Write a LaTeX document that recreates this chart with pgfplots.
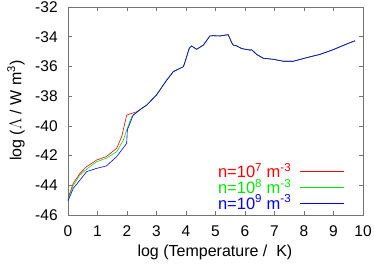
\documentclass[border=0pt]{standalone}
\usepackage{fontspec}
\setmainfont{Liberation Sans}
\usepackage{pgfplots}
\pgfplotsset{compat=1.18}
\definecolor{gred}{RGB}{255,0,0}
\definecolor{ggreen}{RGB}{0,230,0}
\definecolor{gblue}{RGB}{0,0,255}
\begin{document}
\fontsize{15.5}{18}\selectfont
\begin{tikzpicture}
\path[use as bounding box] (-68pt,-51pt) rectangle (306pt,215pt);
\begin{axis}[
  at={(0pt,0pt)}, anchor=south west,
  scale only axis, width=295pt, height=208pt,
  xmin=0, xmax=10, ymin=-46, ymax=-32,
  xtick={0,1,2,3,4,5,6,7,8,9,10},
  xticklabels={0,1,2,3,4,5,6,7,8,9,10},
  ytick={-46,-44,-42,-40,-38,-36,-34,-32},
  yticklabels={-46,-44,-42,-40,-38,-36,-34,-32},
  xticklabel style={yshift=-5pt},
  yticklabel style={xshift=-5pt},
  tick align=inside, major tick length=4pt,
  axis line style={black!55, line width=0.5pt},
  every tick/.style={black!55, line width=0.5pt},
  xlabel={log (Temperature /\ \ K)},
  ylabel={log ($\Lambda$ / W m\textsuperscript{3})},
  every axis x label/.style={at={(axis description cs:0.498,-0.178)}, anchor=center, font=\fontsize{16}{18}\selectfont},
  every axis y label/.style={at={(axis description cs:-0.176,0.502)}, rotate=90, anchor=center, font=\fontsize{16}{18}\selectfont},
  legend style={draw=none, fill=none, at={(axis cs:9.36,-45.87)}, anchor=south east,
    inner sep=0pt, row sep=0pt, column sep=8pt,
    nodes={inner sep=0pt, text height=12pt, text depth=3.8pt}},
  legend plot pos=right, legend cell align=right,
]
\addplot[gred, line width=0.6pt, legend image code/.code={\draw[gred, line width=0.7pt] (0pt,2pt) -- (44pt,2pt);}] coordinates {
(0,-44.87) (0.18,-43.86) (0.41,-43.19) (0.63,-42.75) (0.97,-42.3) (1.3,-42.07) (1.65,-41.51) (1.82,-40.73) (1.99,-39.27) (2.33,-39.05) (2.67,-38.6)
(3.0,-37.92) (3.35,-36.91) (3.57,-36.35) (3.91,-36.02) (3.97,-35.68) (4.11,-34.78) (4.19,-34.62) (4.36,-34.85) (4.59,-34.56) (4.81,-33.95) (4.93,-33.93) (5.15,-33.95) (5.43,-33.86) (5.55,-34.4) (5.6,-34.56) (5.72,-34.62) (5.89,-34.8) (6.17,-34.9) (6.23,-34.88) (6.4,-35.2) (6.62,-35.45) (6.96,-35.52) (7.3,-35.65) (7.64,-35.65) (8.09,-35.41) (8.54,-35.19) (8.99,-34.87) (9.45,-34.49) (9.73,-34.27)
};
\addlegendentry{\fontsize{16.5}{18}\selectfont\textcolor{gred}{n=10\textsuperscript{7} m\textsuperscript{-3}}}
\addplot[ggreen, line width=0.6pt, legend image code/.code={\draw[ggreen, line width=0.7pt] (0pt,2pt) -- (44pt,2pt);}] coordinates {
(0,-44.94) (0.18,-44.0) (0.41,-43.3) (0.63,-42.92) (0.97,-42.41) (1.3,-42.18) (1.65,-41.74) (1.88,-40.95) (1.99,-40.28) (2.16,-39.38) (2.44,-38.93) (2.67,-38.6)
(3.0,-37.92) (3.35,-36.91) (3.57,-36.35) (3.91,-36.02) (3.97,-35.68) (4.11,-34.78) (4.19,-34.62) (4.36,-34.85) (4.59,-34.56) (4.81,-33.95) (4.93,-33.93) (5.15,-33.95) (5.43,-33.86) (5.55,-34.4) (5.6,-34.56) (5.72,-34.62) (5.89,-34.8) (6.17,-34.9) (6.23,-34.88) (6.4,-35.2) (6.62,-35.45) (6.96,-35.52) (7.3,-35.65) (7.64,-35.65) (8.09,-35.41) (8.54,-35.19) (8.99,-34.87) (9.45,-34.49) (9.73,-34.27)
};
\addlegendentry{\fontsize{16.5}{18}\selectfont\textcolor{ggreen}{n=10\textsuperscript{8} m\textsuperscript{-3}}}
\addplot[gblue, line width=0.6pt, legend image code/.code={\draw[gblue, line width=0.7pt] (0pt,2pt) -- (44pt,2pt);}] coordinates {
(0,-45.05) (0.18,-44.2) (0.41,-43.64) (0.63,-43.08) (0.97,-42.86) (1.3,-42.7) (1.65,-42.07) (1.99,-41.17) (2.01,-40.28) (2.21,-39.27) (2.5,-38.82) (2.67,-38.6)
(3.0,-37.92) (3.35,-36.91) (3.57,-36.35) (3.91,-36.02) (3.97,-35.68) (4.11,-34.78) (4.19,-34.62) (4.36,-34.85) (4.59,-34.56) (4.81,-33.95) (4.93,-33.93) (5.15,-33.95) (5.43,-33.86) (5.55,-34.4) (5.6,-34.56) (5.72,-34.62) (5.89,-34.8) (6.17,-34.9) (6.23,-34.88) (6.4,-35.2) (6.62,-35.45) (6.96,-35.52) (7.3,-35.65) (7.64,-35.65) (8.09,-35.41) (8.54,-35.19) (8.99,-34.87) (9.45,-34.49) (9.73,-34.27)
};
\addlegendentry{\fontsize{16.5}{18}\selectfont\textcolor{gblue}{n=10\textsuperscript{9} m\textsuperscript{-3}}}
\end{axis}
\end{tikzpicture}
\end{document}
